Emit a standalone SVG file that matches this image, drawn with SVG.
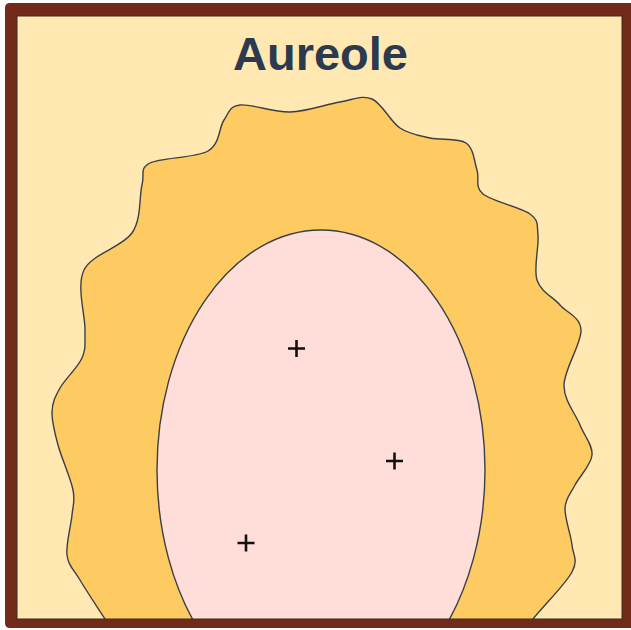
<svg xmlns="http://www.w3.org/2000/svg" width="631" height="630" viewBox="0 0 631 630">
  <style>
    .outline { stroke: #3a3f48; stroke-width: 1.4; stroke-linejoin: round; }
    .title { font-family: "Liberation Sans", Arial, sans-serif; font-weight: bold; font-size: 47px; fill: #2b3a4e; }
    .plus { stroke: #111111; stroke-width: 2.6; stroke-linecap: butt; fill: none; }
  </style>
  <defs>
    <clipPath id="inner">
      <rect x="17" y="16" width="605" height="603"/>
    </clipPath>
  </defs>
  <rect id="background" x="17" y="16" width="605" height="603" fill="#ffe8b1"/>
  <g clip-path="url(#inner)">
    <g id="aureole">
      <path class="outline" fill="#fecb63" d="M105,619 C97.5,607.3 86.3,590.7 80,580 C73.7,569.3 68.3,565.8 67,555 C65.7,544.2 71,525.8 72,515 C73,504.2 75.3,501.7 73,490 C70.7,478.3 61.5,458 58,445 C54.5,432 51.7,421.5 52,412 C52.3,402.5 55,397 60,388 C65,379 77.8,367.7 82,358 C86.2,348.3 84.7,344.7 85,330 C85.3,315.3 76.2,286.2 84,270 C91.8,253.8 122.3,247.2 132,233 C141.7,218.8 139,196.7 142,185 C145,173.3 139,168.7 150,163 C161,157.3 195.7,158.2 208,151 C220.3,143.8 218.7,127.7 224,120 C229.3,112.3 229,106.3 240,105 C251,103.7 273.3,112.5 290,112 C306.7,111.5 326.3,104.2 340,102 C353.7,99.8 362,94.7 372,99 C382,103.3 390.3,121.5 400,128 C409.7,134.5 419,135.5 430,138 C441,140.5 458.2,137.7 466,143 C473.8,148.3 474.2,161.5 477,170 C479.8,178.5 474.2,186.7 483,194 C491.8,201.3 520.8,207.2 530,214 C539.2,220.8 536.8,224 538,235 C539.2,246 533.3,268.3 537,280 C540.7,291.7 552.7,296.7 560,305 C567.3,313.3 580.3,316.7 581,330 C581.7,343.3 564.2,369.2 564,385 C563.8,400.8 575.3,413.3 580,425 C584.7,436.7 592.8,445 592,455 C591.2,465 579.5,476.2 575,485 C570.5,493.8 565.5,498 565,508 C564.5,518 570.8,534.3 572,545 C573.2,555.7 578.5,559.7 572,572 C565.5,584.3 542.5,606.8 533,619 L515,645 L118,645 Z"/>
    </g>
    <g id="core">
      <ellipse class="outline" cx="321" cy="470" rx="164" ry="240" fill="#ffddd9"/>
    </g>
  </g>
  <g id="markers">
    <path class="plus" d="M288,348.5 H305 M296.5,340 V357"/>
    <path class="plus" d="M386,461 H403 M394.5,452.5 V469.5"/>
    <path class="plus" d="M237.5,543 H254.5 M246,534.5 V551.5"/>
  </g>
  <g id="frame">
    <path fill="#722a1a" fill-rule="evenodd" d="M10,3 H640 V628 H10 Q5,628 5,623 V8 Q5,3 10,3 Z M17,16 V619 H622 V16 Z"/>
    <rect x="17" y="16" width="605" height="603" fill="none" stroke="#3b2a20" stroke-width="1"/>
  </g>
  <text id="title" class="title" x="320.5" y="70" text-anchor="middle">Aureole</text>
</svg>
